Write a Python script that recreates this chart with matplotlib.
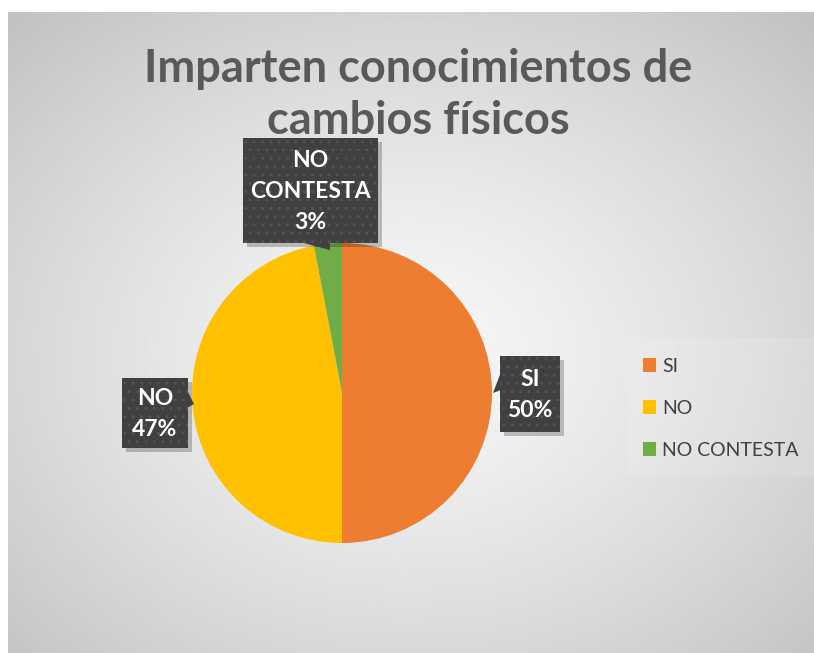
import numpy as np
import matplotlib.pyplot as plt
from matplotlib.patches import Rectangle, Polygon

# datos
categorias = ['SI', 'NO', 'NO CONTESTA']
porcentajes = [50, 47, 3]
colores = ['#ED7D31', '#FFC000', '#70AD47']
titulo = 'Imparten conocimientos de\ncambios físicos'

W, H = 814, 653
plt.rcParams['font.family'] = ['Lato', 'DejaVu Sans']
plt.rcParams['hatch.linewidth'] = 0.8

fig = plt.figure(figsize=(W / 100, H / 100), dpi=100)
ax = fig.add_axes([0, 0, 1, 1])


def Y(y):
    # coordenada de pixel (desde arriba) a coordenada de datos
    return H - y


# fondo con degradado radial
x0, x1, y0, y1 = 8, 814, 12, 653
gx, gy = np.meshgrid(np.linspace(x0, x1, 400), np.linspace(y0, y1, 320))
cx, cy = (x0 + x1) / 2, (y0 + y1) / 2 + 20
r = np.hypot((gx - cx) / ((x1 - x0) / 2), (gy - cy) / ((y1 - y0) / 2)) / np.sqrt(2)
val = 0.97 - 0.205 * np.clip(r, 0, 1) ** 1.3
ax.imshow(val, cmap='gray', vmin=0, vmax=1, extent=(x0, x1, Y(y1), Y(y0)),
          origin='upper', aspect='auto', zorder=0)

# titulo
ax.text(418, Y(95), titulo, ha='center', va='center', fontsize=32.5,
        fontweight='bold', color='#595959', linespacing=1.32, zorder=1)

# pastel
pcx, pcy, pr = 342, 393, 150
wedges, _ = ax.pie(porcentajes, colors=colores, startangle=90, counterclock=False,
                   center=(pcx, Y(pcy)), radius=pr, frame=True,
                   wedgeprops=dict(linewidth=0))
for w in wedges:
    w.set_zorder(2)
ax.set_xlim(0, W)
ax.set_ylim(0, H)
ax.set_aspect('auto')
ax.axis('off')


def etiqueta(bx0, by0, bx1, by1, texto, puntero):
    # sombra
    ax.add_patch(Rectangle((bx0 + 4, Y(by1 + 4)), bx1 - bx0, by1 - by0,
                           facecolor='#000000', alpha=0.22, linewidth=0, zorder=3))
    ax.add_patch(Polygon([(px, Y(py)) for px, py in puntero], closed=True,
                         facecolor='#404040', linewidth=0, zorder=4))
    ax.add_patch(Rectangle((bx0, Y(by1)), bx1 - bx0, by1 - by0,
                           facecolor='#404040', linewidth=0, zorder=4))
    ax.add_patch(Rectangle((bx0, Y(by1)), bx1 - bx0, by1 - by0,
                           facecolor='none', edgecolor='#555555', hatch='..',
                           linewidth=0, zorder=4))
    ax.text((bx0 + bx1) / 2, Y((by0 + by1) / 2 + 1), texto, ha='center', va='center',
            fontsize=16.5, fontweight='bold', color='white', linespacing=1.6, zorder=5)


etiqueta(243, 138, 378, 243, f'{categorias[2]}\n{porcentajes[2]}'.replace(' ', '\n') + '%',
         [(300, 242), (330, 242), (330, 250)])
etiqueta(500, 356, 560, 432, f'{categorias[0]}\n{porcentajes[0]}%',
         [(501, 372), (501, 390), (493, 393)])
etiqueta(122, 378, 188, 448, f'{categorias[1]}\n{porcentajes[1]}%',
         [(187, 390), (187, 408), (194, 404)])

# leyenda
ax.add_patch(Rectangle((628, Y(476)), 186, 138, facecolor='white', alpha=0.12,
                       linewidth=0, zorder=1))
leg = fig.legend(wedges, categorias, loc='upper left', bbox_to_anchor=(625 / W, 1 - 340 / H),
                 frameon=False, fontsize=14, handlelength=0.7, handleheight=0.7,
                 handletextpad=0.3, labelspacing=1.3, labelcolor='#404040')

fig.savefig('out.png', dpi=100)
